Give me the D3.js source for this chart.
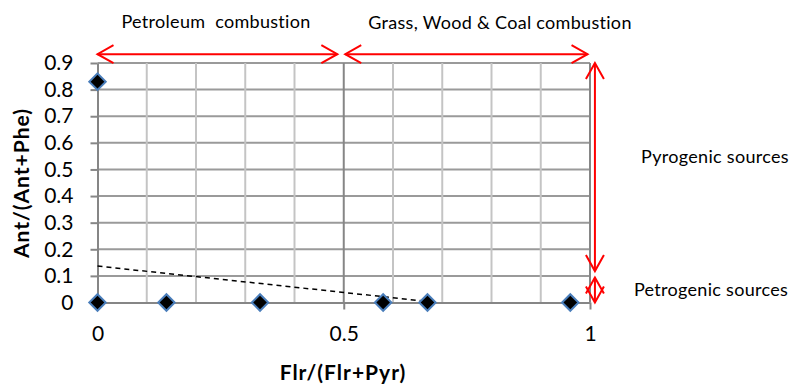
<!DOCTYPE html>
<html>
<head>
<meta charset="utf-8">
<script src="https://cdn.jsdelivr.net/npm/d3@7"></script>
<style>
  html, body { margin: 0; padding: 0; background: #ffffff; }
  svg { display: block; }
  text { font-family: Lato, "Open Sans", sans-serif; fill: #000; }
</style>
</head>
<body>
<svg id="chart" width="789" height="387"></svg>
<script>
// ---- data ----
const xValues = [0, 0, 0.14, 0.33, 0.58, 0.67, 0.96];
const yValues = [0.83, 0, 0, 0, 0, 0, 0];
const trendX = [0, 0.69];
const trendY = [0.137, 0];
const xTickValues = [0, 0.5, 1];
const xTickLabels = ["0", "0.5", "1"];
const yTickValues = [0, 0.1, 0.2, 0.3, 0.4, 0.5, 0.6, 0.7, 0.8, 0.9];
const yTickLabels = ["0", "0.1", "0.2", "0.3", "0.4", "0.5", "0.6", "0.7", "0.8", "0.9"];
const xGridValues = [0.1, 0.2, 0.3, 0.4, 0.6, 0.7, 0.8, 0.9];
const xTitle = "Flr/(Flr+Pyr)";
const yTitle = "Ant/(Ant+Phe)";
// annotation ranges (data units)
const hArrowLabels = ["Petroleum  combustion", "Grass, Wood & Coal combustion"];
const hArrowFrom = [0, 0.503];
const hArrowTo = [0.487, 0.995];
const hArrowY = 0.933;
const vArrowLabels = ["Pyrogenic sources", "Petrogenic sources"];
const vArrowFrom = [0.9, 0.094];
const vArrowTo = [0.118, 0];
const vArrowX = 1.01;

// ---- layout ----
const svg = d3.select("#chart");
const x = d3.scaleLinear().domain([0, 1]).range([97.5, 590]);
const y = d3.scaleLinear().domain([0, 0.9]).range([302.5, 63]);

const gridCol = "#9a9a9a", minorCol = "#c4c4c4", axisCol = "#868686", red = "#ff0000";

// horizontal gridlines
svg.append("g").selectAll("line").data(yTickValues.filter(v => v > 0)).join("line")
  .attr("x1", x(0)).attr("x2", x(1))
  .attr("y1", d => y(d)).attr("y2", d => y(d))
  .attr("stroke", gridCol).attr("stroke-width", 2);

// minor vertical gridlines
svg.append("g").selectAll("line").data(xGridValues).join("line")
  .attr("x1", d => x(d)).attr("x2", d => x(d))
  .attr("y1", y(0)).attr("y2", y(0.9))
  .attr("stroke", minorCol).attr("stroke-width", 2);

// major vertical gridlines
svg.append("g").selectAll("line").data([0.5, 1]).join("line")
  .attr("x1", d => x(d)).attr("x2", d => x(d))
  .attr("y1", y(0)).attr("y2", y(0.9))
  .attr("stroke", axisCol).attr("stroke-width", 2);

// axes
const yAxis = d3.axisLeft(y).tickValues(yTickValues)
  .tickFormat((d, i) => yTickLabels[i]).tickSize(7).tickSizeOuter(0).tickPadding(17);
const gy = svg.append("g").attr("transform", `translate(${x(0)},0)`).call(yAxis);
const xAxis = d3.axisBottom(x).tickValues(xTickValues)
  .tickFormat((d, i) => xTickLabels[i]).tickSize(7).tickSizeOuter(0).tickPadding(17);
const gx = svg.append("g").attr("transform", `translate(0,${y(0)})`).call(xAxis);
[gx, gy].forEach(g => {
  g.select(".domain").attr("stroke", axisCol).attr("stroke-width", 2);
  g.selectAll(".tick line").attr("stroke", axisCol).attr("stroke-width", 2);
  g.selectAll(".tick text").attr("font-size", 21).attr("font-family", "Lato, sans-serif").attr("fill", "#000");
});

// trend line
svg.append("path")
  .datum(trendX.map((v, i) => [v, trendY[i]]))
  .attr("d", d3.line().x(d => x(d[0])).y(d => y(d[1])))
  .attr("fill", "none").attr("stroke", "#000").attr("stroke-width", 1.5)
  .attr("stroke-dasharray", "5,4");

// markers
const diamond = d3.symbol().type(d3.symbolSquare).size(135);
svg.append("g").selectAll("path").data(xValues.map((v, i) => [v, yValues[i]])).join("path")
  .attr("d", diamond)
  .attr("transform", d => `translate(${x(d[0])},${y(d[1])}) rotate(45)`)
  .attr("fill", "#000").attr("stroke", "#4a7ebb").attr("stroke-width", 2);

// arrows
function arrowHead(g, tx, ty, dx, dy) {
  const L = 16, Wd = 9;
  const bx = tx - dx * L, by = ty - dy * L;
  const px = -dy, py = dx;
  g.append("path")
    .attr("d", `M${bx + px * Wd},${by + py * Wd}L${tx},${ty}L${bx - px * Wd},${by - py * Wd}`)
    .attr("fill", "none").attr("stroke", red).attr("stroke-width", 2);
}
const ag = svg.append("g");
hArrowFrom.forEach((f, i) => {
  const x0 = x(f), x1 = x(hArrowTo[i]), yy = y(hArrowY);
  ag.append("line").attr("x1", x0).attr("x2", x1).attr("y1", yy).attr("y2", yy)
    .attr("stroke", red).attr("stroke-width", 2);
  arrowHead(ag, x0, yy, -1, 0);
  arrowHead(ag, x1, yy, 1, 0);
});
vArrowFrom.forEach((f, i) => {
  const y0 = y(f), y1 = y(vArrowTo[i]), xx = x(vArrowX);
  ag.append("line").attr("x1", xx).attr("x2", xx).attr("y1", y0).attr("y2", y1)
    .attr("stroke", red).attr("stroke-width", 2);
  arrowHead(ag, xx, y0, 0, -1);
  arrowHead(ag, xx, y1, 0, 1);
});

// annotation labels
const annot = (xx, yy, t) => svg.append("text").attr("x", xx).attr("y", yy)
  .attr("text-anchor", "middle").attr("font-size", 18).attr("letter-spacing", 0.3)
  .style("white-space", "pre").text(t);
annot(216, 28, hArrowLabels[0]);
annot(500, 29, hArrowLabels[1]);
annot(715, 163, vArrowLabels[0]);
annot(711, 296, vArrowLabels[1]);

// axis titles
svg.append("text").attr("x", 343).attr("y", 380).attr("text-anchor", "middle")
  .attr("font-size", 21).attr("font-weight", "bold").attr("letter-spacing", 1).text(xTitle);
svg.append("text").attr("transform", "translate(29,183) rotate(-90)").attr("text-anchor", "middle")
  .attr("font-size", 21).attr("font-weight", "bold").attr("letter-spacing", 1).text(yTitle);
</script>
</body>
</html>
